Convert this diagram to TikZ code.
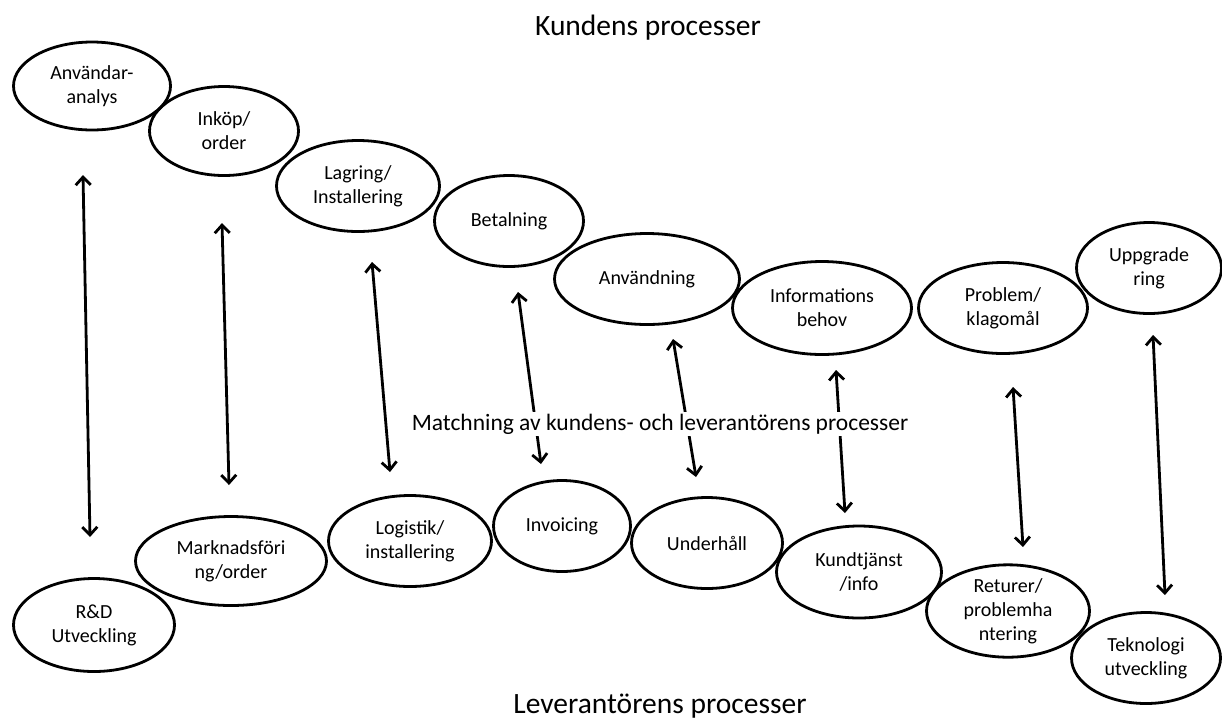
\documentclass[tikz,border=0pt]{standalone}
\usepackage{fontspec}
\setmainfont{Carlito}
\usetikzlibrary{shapes.geometric,arrows.meta}
\begin{document}
\begin{tikzpicture}[x=1pt,y=-1pt,
  proc/.style={ellipse,draw,line width=2.8pt,inner sep=0pt,align=center,font=\fontsize{20}{24}\selectfont},
  link/.style={line width=2.8pt,{Straight Barb[length=8pt,width=15pt]}-{Straight Barb[length=8pt,width=15pt]}},
  title/.style={font=\fontsize{29.5}{34}\selectfont,anchor=base,inner sep=0pt},
  midlabel/.style={font=\fontsize{23.5}{28}\selectfont,anchor=base,fill=white,inner sep=2pt},
]
\useasboundingbox (0,0) rectangle (1222,724);

% customer processes
\node[proc,minimum width=157pt,minimum height=88pt] (k1) at (92,86) {Användar-\\analys};
\node[proc,minimum width=149pt,minimum height=89pt] (k2) at (224,131) {Inköp/\\order};
\node[proc,minimum width=163pt,minimum height=91pt] (k3) at (358,186) {Lagring/\\Installering};
\node[proc,minimum width=149pt,minimum height=91pt] (k4) at (509,221) {Betalning};
\node[proc,minimum width=185pt,minimum height=91pt] (k5) at (647,279) {Användning};
\node[proc,minimum width=179pt,minimum height=93pt] (k6) at (822,308) {Informations\\behov};
\node[proc,minimum width=169pt,minimum height=91pt] (k7) at (1003,308) {Problem/\\klagomål};
\node[proc,minimum width=145pt,minimum height=91pt] (k8) at (1149,268) {Uppgrade\\ring};

% supplier processes
\node[proc,minimum width=161pt,minimum height=93pt] (l1) at (94,625) {R\&D\\Utveckling};
\node[proc,minimum width=191pt,minimum height=89pt] (l2) at (231,561) {Marknadsföri\\ng/order};
\node[proc,minimum width=163pt,minimum height=91pt] (l3) at (410,541) {Logistik/\\installering};
\node[proc,minimum width=137pt,minimum height=91pt] (l4) at (562,526) {Invoicing};
\node[proc,minimum width=151pt,minimum height=91pt] (l5) at (707,543) {Underhåll};
\node[proc,minimum width=165pt,minimum height=92pt] (l6) at (859,572) {Kundtjänst\\/info};
\node[proc,minimum width=163pt,minimum height=91pt] (l7) at (1008,611) {Returer/\\problemha\\ntering};
\node[proc,minimum width=149pt,minimum height=91pt] (l8) at (1146,658) {Teknologi\\utveckling};

% arrow ends
\coordinate (t1) at (83,175);   \coordinate (b1) at (90,537);
\coordinate (t2) at (222,223);  \coordinate (b2) at (229,485);
\coordinate (t3) at (372,262);  \coordinate (b3) at (390,472);
\coordinate (t4) at (518,292);  \coordinate (b4) at (541,464);
\coordinate (t5) at (673,339);  \coordinate (b5) at (696,477);
\coordinate (t6) at (836,370);  \coordinate (b6) at (845,513);
\coordinate (t7) at (1013,387); \coordinate (b7) at (1023,547);
\coordinate (t8) at (1153,335); \coordinate (b8) at (1165,595);

\draw[link] (t1) -- (b1);
\draw[link] (t2) -- (b2);
\draw[link] (t3) -- (b3);
\draw[link] (t4) -- (b4);
\draw[link] (t5) -- (b5);
\draw[link] (t6) -- (b6);
\draw[link] (t7) -- (b7);
\draw[link] (t8) -- (b8);

% labels
\node[title] (kt) at (648,35) {Kundens processer};
\node[title] (lt) at (660,713) {Leverantörens processer};
\node[midlabel] (ml) at (660,430) {Matchning av kundens- och leverantörens processer};
\end{tikzpicture}
\end{document}
